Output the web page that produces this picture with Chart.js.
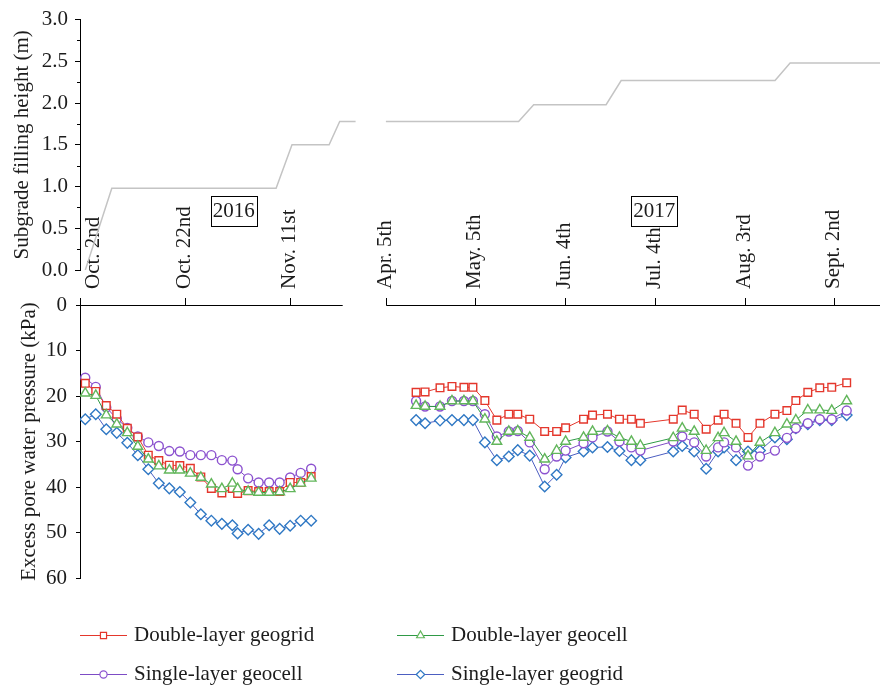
<!DOCTYPE html>
<html>
<head>
<meta charset="utf-8">
<script src="https://cdn.jsdelivr.net/npm/chart.js@4.4.1/dist/chart.umd.min.js"></script>
<style>
  html, body { margin: 0; padding: 0; background: #ffffff; }
  #wrap { position: relative; width: 880px; height: 688px; }
  #wrap canvas { position: absolute; left: 0; top: 0; }
</style>
</head>
<body>
<div id="wrap">
  <canvas id="pressure" width="880" height="688"></canvas>
  <canvas id="filling" width="880" height="300"></canvas>
</div>
<script>
// ---------- measurement dates ----------
const DATES_2016 = ['2016-10-03','2016-10-05','2016-10-07','2016-10-09','2016-10-11','2016-10-13',
  '2016-10-15','2016-10-17','2016-10-19','2016-10-21','2016-10-23','2016-10-25','2016-10-27',
  '2016-10-29','2016-10-31','2016-11-01','2016-11-03','2016-11-05','2016-11-07','2016-11-09',
  '2016-11-11','2016-11-13','2016-11-15'];
const DATES_2017 = ['2017-04-15','2017-04-18','2017-04-23','2017-04-27','2017-05-01','2017-05-04',
  '2017-05-08','2017-05-12','2017-05-16','2017-05-19','2017-05-23','2017-05-28','2017-06-01',
  '2017-06-04','2017-06-10','2017-06-13','2017-06-18','2017-06-22','2017-06-26','2017-06-29',
  '2017-07-10','2017-07-13','2017-07-17','2017-07-21','2017-07-25','2017-07-27','2017-07-31',
  '2017-08-04','2017-08-08','2017-08-13','2017-08-17','2017-08-20','2017-08-24','2017-08-28',
  '2017-09-01','2017-09-06'];

// ---------- excess pore water pressure (kPa) ----------
const DOUBLE_GEOGRID_2016 = [17.2, 19.0, 22.1, 24.0, 27.1, 29.0, 33.0, 34.2, 35.2, 35.3, 35.9, 37.8,
  40.3, 41.3, 40.3, 41.4, 40.8, 41.0, 41.0, 41.0, 39.0, 39.0, 37.7];
const DOUBLE_GEOCELL_2016 = [19.4, 19.9, 24.2, 26.2, 28.1, 31.1, 33.9, 35.4, 36.3, 36.3, 37.0, 37.9,
  39.4, 40.4, 39.2, 40.4, 41.0, 41.2, 41.2, 41.1, 40.4, 39.2, 38.1];
const SINGLE_GEOCELL_2016 = [16.0, 18.0, 22.5, 25.0, 27.0, 28.9, 30.2, 31.0, 32.1, 32.2, 33.0, 33.0,
  33.0, 34.1, 34.2, 36.1, 38.1, 39.0, 39.0, 39.0, 37.9, 36.9, 36.0];
const SINGLE_GEOGRID_2016 = [25.1, 24.0, 27.3, 28.1, 30.3, 33.0, 36.1, 39.2, 40.3, 41.1, 43.4, 46.0,
  47.4, 48.1, 48.4, 50.2, 49.4, 50.3, 48.4, 49.2, 48.5, 47.4, 47.4];

const DOUBLE_GEOGRID_2017 = [19.2, 19.1, 18.2, 17.9, 18.1, 18.1, 21.0, 25.3, 24.0, 24.0, 25.1, 27.8,
  27.8, 27.0, 25.1, 24.2, 24.0, 25.1, 25.1, 26.0, 25.1, 23.1, 24.0, 27.3, 25.3, 24.0, 26.0, 29.1,
  26.0, 24.0, 23.2, 21.0, 19.2, 18.2, 18.1, 17.1];
const DOUBLE_GEOCELL_2017 = [22.1, 22.3, 22.3, 21.1, 21.1, 21.1, 25.1, 30.0, 27.8, 27.7, 29.1, 33.9,
  32.0, 30.0, 29.1, 27.8, 27.7, 29.1, 30.0, 30.9, 29.2, 27.1, 27.8, 32.0, 29.2, 28.1, 30.0, 33.2,
  30.2, 28.1, 26.2, 25.3, 23.1, 23.1, 23.2, 21.1];
const SINGLE_GEOCELL_2017 = [21.1, 22.3, 22.3, 21.1, 21.1, 21.1, 24.0, 28.9, 27.8, 27.7, 30.2, 36.1,
  33.3, 32.0, 30.4, 29.1, 27.8, 30.0, 31.3, 32.0, 30.0, 28.9, 30.2, 33.3, 31.3, 30.2, 31.3, 35.3,
  33.3, 32.0, 29.2, 27.1, 26.0, 25.1, 25.1, 23.2];
const SINGLE_GEOGRID_2017 = [25.3, 26.0, 25.4, 25.3, 25.3, 25.3, 30.2, 34.1, 33.3, 31.9, 33.1, 39.9,
  37.3, 33.5, 32.2, 31.3, 31.2, 32.1, 34.1, 34.1, 32.2, 31.0, 32.2, 36.0, 32.2, 31.3, 34.1, 32.2,
  32.0, 29.1, 29.5, 27.1, 26.2, 25.3, 25.3, 24.2];

// ---------- subgrade filling height (m) ----------
const FILL_DATES_2016 = ['2016-10-03','2016-10-08','2016-11-08','2016-11-11','2016-11-18','2016-11-20','2016-11-23'];
const FILL_HEIGHT_2016 = [0, 0.98, 0.98, 1.5, 1.5, 1.78, 1.78];
const FILL_DATES_2017 = ['2017-04-04','2017-05-18','2017-05-23','2017-06-16','2017-06-21','2017-08-11','2017-08-16','2017-09-16'];
const FILL_HEIGHT_2017 = [1.78, 1.78, 1.98, 1.98, 2.27, 2.27, 2.48, 2.48];

// ---------- axis labelling ----------
const TICK_DATES = ['2016-10-02','2016-10-22','2016-11-11','2017-04-05','2017-05-05',
  '2017-06-04','2017-07-04','2017-08-03','2017-09-02'];
const TICK_LABELS = ['Oct. 2nd','Oct. 22nd','Nov. 11st','Apr. 5th','May. 5th',
  'Jun. 4th','Jul. 4th','Aug. 3rd','Sept. 2nd'];
const AXIS_SPANS = [['2016-10-02','2016-11-21'], ['2017-04-05','2017-09-20']];
const YEAR_TAGS = [{ text: '2016', date: '2016-10-31', h: 0.71 }, { text: '2017', date: '2017-07-02', h: 0.71 }];

const SERIES_NAMES = ['Double-layer geogrid', 'Double-layer geocell', 'Single-layer geocell', 'Single-layer geogrid'];

// ---------- broken time axis: the 2016 stretch is drawn wider per day ----------
const DAY_MS = 86400000;
const SEG_2016 = { anchor: '2016-10-02', offset: 0, unitsPerDay: 1.757 };
const SEG_2017 = { anchor: '2017-04-05', offset: 102.4, unitsPerDay: 1 };
const X_MIN = 0, X_MAX = 265.2;

function axisPos(date) {
  const t = Date.parse(date);
  const seg = t < Date.parse('2017-01-01') ? SEG_2016 : SEG_2017;
  return seg.offset + (t - Date.parse(seg.anchor)) / DAY_MS * seg.unitsPerDay;
}

function joinPeriods(d16, v16, d17, v17) {
  const pts = d16.map((d, i) => ({ x: axisPos(d), y: v16[i] }));
  pts.push({ x: axisPos(d16[d16.length - 1]), y: null });   // break between the two seasons
  return pts.concat(d17.map((d, i) => ({ x: axisPos(d), y: v17[i] })));
}

// ---------- styling ----------
const INK = '#1c1c1c';
const FAMILY = "'Liberation Serif', 'DejaVu Serif', serif";
const TICK_FONT = { family: FAMILY, size: 21 };
const TITLE_FONT = { family: FAMILY, size: 21 };
Chart.defaults.font.family = FAMILY;
Chart.defaults.color = INK;

const STYLES = [
  { line: '#e4372c', mark: '#e4372c', shape: 'rect',     r: 5.4, order: 1 },
  { line: '#2f9a46', mark: '#62b65b', shape: 'triangle', r: 5.6, order: 0 },
  { line: '#7d4cc5', mark: '#8c52cf', shape: 'circle',   r: 4.5, order: 2 },
  { line: '#4c5ec1', mark: '#2f78c4', shape: 'rectRot',  r: 5.3, order: 3 }
];

// ---------- plugins ----------
const minorTicks = {
  id: 'minorTicks',
  afterDraw(chart) {
    const s = chart.scales.y, ctx = chart.ctx;
    const x = chart.chartArea.left;
    ctx.save();
    ctx.strokeStyle = '#000'; ctx.lineWidth = 1;
    ctx.beginPath();
    for (let v = 0.25; v < s.max; v += 0.5) {
      const y = Math.round(s.getPixelForValue(v)) + 0.5;
      ctx.moveTo(x - 3, y); ctx.lineTo(x + 0.5, y);
    }
    ctx.stroke();
    ctx.restore();
  }
};

const yearTags = {
  id: 'yearTags',
  afterDraw(chart) {
    const ctx = chart.ctx, sx = chart.scales.x, sy = chart.scales.y;
    ctx.save();
    ctx.font = `21px ${FAMILY}`;
    ctx.textAlign = 'center'; ctx.textBaseline = 'middle';
    ctx.fillStyle = INK; ctx.strokeStyle = '#000'; ctx.lineWidth = 1;
    YEAR_TAGS.forEach(tag => {
      const cx = sx.getPixelForValue(axisPos(tag.date));
      const cy = sy.getPixelForValue(tag.h);
      const w = ctx.measureText(tag.text).width + 4, h = 30;
      ctx.strokeRect(Math.round(cx - w / 2) + 0.5, Math.round(cy - h / 2) + 0.5, Math.round(w), h);
      ctx.fillText(tag.text, cx, cy + 1);
    });
    ctx.restore();
  }
};

const timeAxis = {
  id: 'timeAxis',
  afterDraw(chart) {
    const ctx = chart.ctx, sx = chart.scales.x, area = chart.chartArea;
    const y = Math.round(area.top) + 0.5;
    ctx.save();
    ctx.strokeStyle = '#000'; ctx.lineWidth = 1;
    ctx.beginPath();
    AXIS_SPANS.forEach(([a, b]) => {
      ctx.moveTo(Math.max(sx.getPixelForValue(axisPos(a)), area.left), y);
      ctx.lineTo(sx.getPixelForValue(axisPos(b)), y);
    });
    ctx.stroke();
    // date labels, read upwards from the tick marks
    ctx.font = `21px ${FAMILY}`;
    ctx.fillStyle = INK; ctx.textAlign = 'left'; ctx.textBaseline = 'middle';
    const base = area.top - sx.options.grid.tickLength - 9;
    sx.ticks.forEach((t, i) => {
      const x = Math.max(sx.getPixelForValue(t.value) - 1, area.left + 13);
      ctx.save();
      ctx.translate(x, base);
      ctx.rotate(-Math.PI / 2);
      ctx.fillText(TICK_LABELS[i], 0, 0);
      ctx.restore();
    });
    ctx.restore();
  }
};

const seriesKey = {
  id: 'seriesKey',
  afterDraw(chart) {
    const ctx = chart.ctx;
    const cols = [80, 397], rows = [635, 674], lineLen = 47, textGap = 7;
    ctx.save();
    ctx.font = `21px ${FAMILY}`;
    ctx.textAlign = 'left'; ctx.textBaseline = 'middle';
    chart.data.datasets.forEach((ds, i) => {
      const x0 = cols[i % 2], y = rows[Math.floor(i / 2)] + 0.5;
      ctx.strokeStyle = ds.borderColor; ctx.lineWidth = 1.2;
      ctx.beginPath(); ctx.moveTo(x0, y); ctx.lineTo(x0 + lineLen, y); ctx.stroke();
      ctx.fillStyle = '#ffffff'; ctx.strokeStyle = ds.pointBorderColor; ctx.lineWidth = 1.2;
      Chart.helpers.drawPoint(ctx, { pointStyle: ds.pointStyle, radius: ds.pointRadius * 0.8, rotation: 0, borderWidth: 1.2 },
        x0 + lineLen / 2, y);
      ctx.fillStyle = INK;
      ctx.fillText(ds.label, x0 + lineLen + textGap, y);
    });
    ctx.restore();
  }
};

// ---------- pore pressure panel ----------
const pressureSets = [
  [DOUBLE_GEOGRID_2016, DOUBLE_GEOGRID_2017],
  [DOUBLE_GEOCELL_2016, DOUBLE_GEOCELL_2017],
  [SINGLE_GEOCELL_2016, SINGLE_GEOCELL_2017],
  [SINGLE_GEOGRID_2016, SINGLE_GEOGRID_2017]
].map(([v16, v17], i) => {
  const st = STYLES[i];
  return {
    label: SERIES_NAMES[i],
    data: joinPeriods(DATES_2016, v16, DATES_2017, v17),
    borderColor: st.line,
    borderWidth: 1,
    pointStyle: st.shape,
    pointRadius: st.r,
    pointHoverRadius: st.r,
    pointBorderColor: st.mark,
    pointBackgroundColor: '#ffffff',
    pointBorderWidth: 1.4,
    order: st.order,
    tension: 0,
    spanGaps: false
  };
});

new Chart(document.getElementById('pressure'), {
  type: 'line',
  data: { datasets: pressureSets },
  options: {
    responsive: false,
    animation: false,
    events: [],
    layout: { padding: { top: 0, left: 0, right: 0, bottom: 110 } },
    plugins: { legend: { display: false }, tooltip: { enabled: false } },
    scales: {
      x: {
        type: 'linear', position: 'top', min: X_MIN, max: X_MAX,
        afterBuildTicks: s => { s.ticks = TICK_DATES.map(d => ({ value: axisPos(d) })); },
        afterFit: s => { s.height = 305; },
        ticks: { display: false, autoSkip: false },
        grid: { display: true, drawOnChartArea: false, drawTicks: true, tickLength: 7, tickColor: '#000', tickWidth: 1 },
        border: { display: false }
      },
      y: {
        type: 'linear', position: 'left', reverse: true, min: 0, max: 60,
        afterFit: s => { s.width = 80; },
        ticks: { stepSize: 10, font: TICK_FONT, color: INK, padding: 9 },
        grid: { display: true, drawOnChartArea: false, tickLength: 4, tickColor: '#000' },
        border: { display: true, color: '#000', width: 1 },
        title: { display: true, text: 'Excess pore water pressure (kPa)', font: TITLE_FONT, color: INK, padding: { top: 17, bottom: 0 } }
      }
    }
  },
  plugins: [timeAxis, seriesKey]
});

// ---------- filling height panel ----------
new Chart(document.getElementById('filling'), {
  type: 'line',
  data: {
    datasets: [{
      label: 'Subgrade filling height',
      data: joinPeriods(FILL_DATES_2016, FILL_HEIGHT_2016, FILL_DATES_2017, FILL_HEIGHT_2017),
      borderColor: '#c4c4c4',
      borderWidth: 1.5,
      pointRadius: 0,
      tension: 0,
      spanGaps: false
    }]
  },
  options: {
    responsive: false,
    animation: false,
    events: [],
    layout: { padding: { top: 16, left: 0, right: 0, bottom: 30 } },
    plugins: { legend: { display: false }, tooltip: { enabled: false } },
    scales: {
      x: { type: 'linear', display: false, min: X_MIN, max: X_MAX },
      y: {
        type: 'linear', position: 'left', min: 0, max: 3,
        afterFit: s => { s.width = 80; },
        ticks: { stepSize: 0.5, font: TICK_FONT, color: INK, padding: 7, callback: v => v.toFixed(1) },
        grid: { display: true, drawOnChartArea: false, tickLength: 5, tickColor: '#000' },
        border: { display: true, color: '#000', width: 1 },
        title: { display: true, text: 'Subgrade filling height (m)', font: TITLE_FONT, color: INK, padding: { top: 10, bottom: 0 } }
      }
    }
  },
  plugins: [minorTicks, yearTags]
});
</script>
</body>
</html>
